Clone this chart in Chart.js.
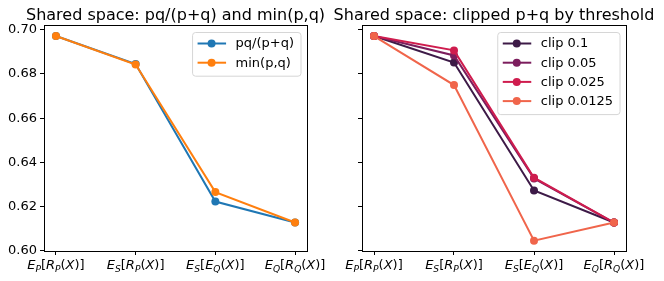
<!DOCTYPE html>
<html><head><meta charset="utf-8">
<script src="https://cdn.jsdelivr.net/npm/chart.js@4"></script>
<style>
html,body{margin:0;padding:0;background:#fff;width:664px;height:281px;overflow:hidden}
.box{position:absolute;top:0;width:332px;height:281px}
</style></head><body>
<div class="box" style="left:0"><canvas id="c1" width="332" height="281"></canvas></div>
<div class="box" style="left:332px"><canvas id="c2" width="332" height="281"></canvas></div>
<script>
// ---- data ----
const categories = ['E_P[R_P(X)]', 'E_S[R_P(X)]', 'E_S[E_Q(X)]', 'E_Q[R_Q(X)]'];
const yTicks = [0.60, 0.62, 0.64, 0.66, 0.68, 0.70];
const leftTitle = 'Shared space: pq/(p+q) and min(p,q)';
const rightTitle = 'Shared space: clipped p+q by threshold';
const leftLabels = ['pq/(p+q)', 'min(p,q)'];
const pqOverSum = [0.6972, 0.6845, 0.6222, 0.6127];
const minPQ     = [0.6972, 0.6843, 0.6265, 0.6127];
const rightLabels = ['clip 0.1', 'clip 0.05', 'clip 0.025', 'clip 0.0125'];
const clip0100  = [0.6972, 0.6852, 0.6272, 0.6127];
const clip0050  = [0.6972, 0.6884, 0.6327, 0.6127];
const clip0025  = [0.6972, 0.6907, 0.6330, 0.6127];
const clip00125 = [0.6972, 0.6750, 0.6045, 0.6127];

// ---- styles ----
const FONT = '"DejaVu Sans", sans-serif';
const leftColors = ['#1f77b4', '#ff7f0e'];
const rightColors = ['#3d1a47', '#7c1d5d', '#cf1c4e', '#f0654b'];

function ds(label, values, color, order) {
  return {
    label, data: values.map((v, i) => ({x: i, y: v})), order,
    borderColor: color, backgroundColor: color, borderWidth: 2,
    pointRadius: 4, pointHoverRadius: 4, pointBorderWidth: 0, tension: 0
  };
}

function drawMath(ctx, s, cx, y, size) {
  const segs = [];
  for (let i = 0; i < s.length; i++) {
    const ch = s[i];
    if (ch === '_') { segs.push({t: s[i + 1], sub: true, it: true}); i++; continue; }
    segs.push({t: ch, sub: false, it: /[A-Za-z]/.test(ch)});
  }
  const font = g => (g.it ? 'italic ' : '') + (g.sub ? size * 0.7 : size) + 'px ' + FONT;
  let w = 0;
  segs.forEach(g => { ctx.font = font(g); g.w = ctx.measureText(g.t).width; w += g.w; });
  let x = cx - w / 2;
  ctx.textAlign = 'left'; ctx.textBaseline = 'alphabetic';
  segs.forEach(g => { ctx.font = font(g); ctx.fillText(g.t, x, y + (g.sub ? size * 0.22 : 0)); x += g.w; });
}

const decor = {
  id: 'decor',
  afterDraw(chart, args, o) {
    const ctx = chart.ctx, a = chart.chartArea;
    ctx.save();
    // frame
    ctx.strokeStyle = '#000'; ctx.lineWidth = 1;
    ctx.strokeRect(Math.round(a.left) + 0.5, Math.round(a.top) + 0.5,
                   Math.round(a.right) - Math.round(a.left), Math.round(a.bottom) - Math.round(a.top));
    // title
    ctx.fillStyle = '#000';
    ctx.font = '16px ' + FONT; ctx.textAlign = 'center'; ctx.textBaseline = 'alphabetic';
    ctx.fillText(o.title, (a.left + a.right) / 2, 19.5);
    // x labels
    const xs = chart.scales.x;
    categories.forEach((c, i) => drawMath(ctx, c, xs.getPixelForValue(i), 269, 13));
    // legend
    const dsets = chart.data.datasets;
    ctx.font = '13px ' + FONT;
    let tw = 0; dsets.forEach(d => tw = Math.max(tw, ctx.measureText(d.label).width));
    const bw = 43.5 + tw + 6.5;
    const bx = a.right - 6.5 - bw, by = a.top + 7;
    const row = 19.2, first = 11.5;
    const bh = first + (dsets.length - 1) * row + 13;
    ctx.beginPath();
    ctx.roundRect(bx + 0.5, by + 0.5, bw, bh, 3);
    ctx.fillStyle = 'rgba(255,255,255,0.8)'; ctx.fill();
    ctx.strokeStyle = '#d6d6d6'; ctx.lineWidth = 1; ctx.stroke();
    dsets.forEach((d, i) => {
      const yy = by + first + i * row;
      ctx.strokeStyle = d.borderColor; ctx.lineWidth = 2;
      ctx.beginPath(); ctx.moveTo(bx + 5.5, yy); ctx.lineTo(bx + 34, yy); ctx.stroke();
      ctx.fillStyle = d.borderColor;
      ctx.beginPath(); ctx.arc(bx + 19.5, yy, 4, 0, Math.PI * 2); ctx.fill();
      ctx.fillStyle = '#000'; ctx.textAlign = 'left'; ctx.textBaseline = 'middle';
      ctx.fillText(d.label, bx + 43.5, yy + 0.5);
    });
    ctx.restore();
  }
};

function makeChart(id, title, datasets, yWidth, padRight, showY) {
  return new Chart(document.getElementById(id), {
    type: 'line',
    data: {datasets},
    plugins: [decor],
    options: {
      responsive: false, animation: false, devicePixelRatio: 1,
      layout: {padding: {left: 0, right: padRight, top: 25, bottom: 0}},
      plugins: {legend: {display: false}, title: {display: false}, tooltip: {enabled: false}, decor: {title}},
      scales: {
        x: {
          type: 'linear', min: -0.15, max: 3.15,
          afterBuildTicks: s => { s.ticks = categories.map((c, i) => ({value: i})); },
          afterFit: s => { s.height = 30; },
          ticks: {color: 'rgba(0,0,0,0)', maxRotation: 0, autoSkip: false, callback: () => ''},
          grid: {drawOnChartArea: false, drawTicks: true, tickLength: 4, color: '#000', lineWidth: 1},
          border: {display: true, color: '#000', width: 1}
        },
        y: {
          type: 'linear', min: 0.5998, max: 0.7022,
          afterBuildTicks: s => { s.ticks = yTicks.map(v => ({value: v})); },
          afterFit: s => { s.width = yWidth; },
          ticks: {color: '#000', padding: 3, font: {family: FONT, size: 13},
                  callback: v => showY ? Number(v).toFixed(2) : ''},
          grid: {drawOnChartArea: false, drawTicks: true, tickLength: 4, color: '#000', lineWidth: 1},
          border: {display: true, color: '#000', width: 1}
        }
      }
    }
  });
}

makeChart('c1', leftTitle, [
  ds(leftLabels[0], pqOverSum, leftColors[0], 2),
  ds(leftLabels[1], minPQ, leftColors[1], 1)
], 44, 25, true);

makeChart('c2', rightTitle, [
  ds(rightLabels[0], clip0100, rightColors[0], 4),
  ds(rightLabels[1], clip0050, rightColors[1], 3),
  ds(rightLabels[2], clip0025, rightColors[2], 2),
  ds(rightLabels[3], clip00125, rightColors[3], 1)
], 30, 38, false);
</script>
</body></html>
